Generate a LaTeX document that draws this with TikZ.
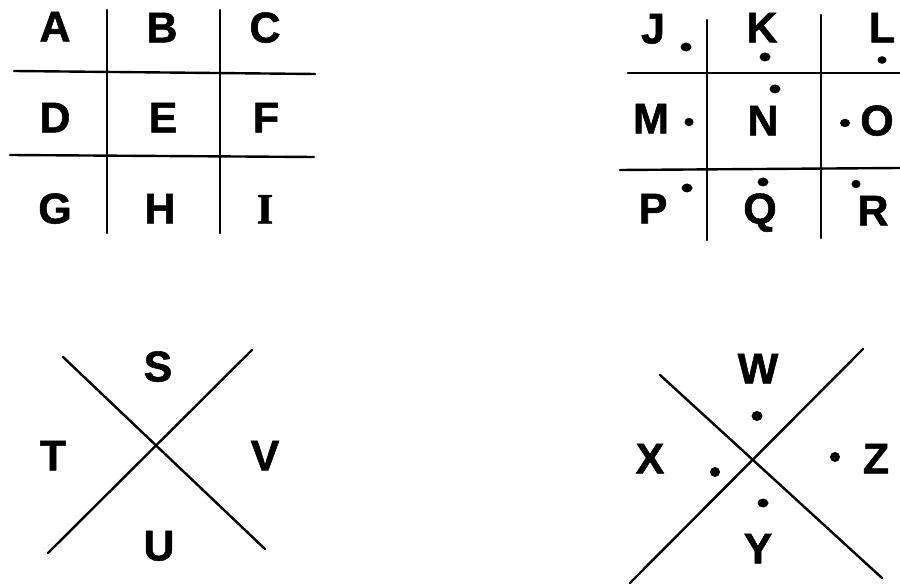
\documentclass[tikz,border=0pt]{standalone}
\usepackage{fontspec}
\setmainfont{Liberation Sans}
\newfontfamily\heavy{Liberation Sans Bold}[FakeBold=1.2]
\newfontfamily\serifI{Liberation Serif Bold}[FakeBold=1.2]
\begin{document}
\begin{tikzpicture}[x=1pt,y=-1pt,
  lt/.style={font=\fontsize{43}{43}\selectfont\heavy, inner sep=0pt, text height=30.8pt, text depth=0pt, anchor=center},
  ln/.style={line width=2.4pt, line cap=round},
  dt/.style={fill=black}]
\useasboundingbox (0,0) rectangle (900,585);
% ---- left grid ----
\coordinate (g1t) at (107,10); \coordinate (g1b) at (107,233);
\coordinate (g2t) at (220,10); \coordinate (g2b) at (220,233);
\coordinate (h1l) at (14,71);  \coordinate (h1r) at (315,74);
\coordinate (h2l) at (10,155); \coordinate (h2r) at (314,157);
\draw[ln] (g1t) -- (g1b);
\draw[ln] (g2t) -- (g2b);
\draw[ln] (h1l) -- (h1r);
\draw[ln] (h2l) -- (h2r);
\node[lt] (A) at (55,26) {A};
\node[lt] (B) at (162,27) {B};
\node[lt] (C) at (265,27) {C};
\node[lt] (D) at (55,117) {D};
\node[lt] (E) at (163,117) {E};
\node[lt] (F) at (266,117) {F};
\node[lt] (G) at (55,208) {G};
\node[lt] (H) at (160,208) {H};
\node[lt,font=\fontsize{43}{43}\selectfont\serifI] (I) at (265,208) {I};
% ---- right grid ----
\coordinate (k1t) at (707,20); \coordinate (k1b) at (707,240);
\coordinate (k2t) at (821,15); \coordinate (k2b) at (821,238);
\coordinate (m1l) at (628,73); \coordinate (m1r) at (900,73);
\coordinate (m2l) at (620,170); \coordinate (m2r) at (900,168);
\draw[ln] (k1t) -- (k1b);
\draw[ln] (k2t) -- (k2b);
\draw[ln] (m1l) -- (m1r);
\draw[ln] (m2l) -- (m2r);
\node[lt] (J) at (653,28) {J};
\node[lt] (K) at (762,27) {K};
\node[lt] (L) at (882,27) {L};
\node[lt] (M) at (651,118) {M};
\node[lt] (N) at (763,120) {N};
\node[lt] (O) at (877,120) {O};
\node[lt] (P) at (653,208) {P};
\node[lt] (Q) at (760,208) {Q};
\node[lt] (R) at (873,210) {R};
\fill[dt] (686,47) ellipse (5.5 and 4.5);
\fill[dt] (765,57) ellipse (5.5 and 4.5);
\fill[dt] (882,60) ellipse (4.5 and 3.8);
\fill[dt] (775,89) ellipse (5.5 and 4.5);
\fill[dt] (689,122) ellipse (4.5 and 4.2);
\fill[dt] (845,123) ellipse (5 and 4.2);
\fill[dt] (687,188) ellipse (5.5 and 4.5);
\fill[dt] (763,182) ellipse (5.5 and 4.5);
\fill[dt] (856,184) ellipse (4.5 and 4.2);
% ---- left X ----
\coordinate (x1a) at (63,357);  \coordinate (x1b) at (265,549);
\coordinate (x2a) at (48,553);  \coordinate (x2b) at (252,350);
\draw[ln] (x1a) -- (x1b);
\draw[ln] (x2a) -- (x2b);
\node[lt] (S) at (158,366) {S};
\node[lt] (T) at (53,455) {T};
\node[lt] (V) at (265,455) {V};
\node[lt] (U) at (159,545) {U};
% ---- right X ----
\coordinate (y1a) at (660,375); \coordinate (y1b) at (882,578);
\coordinate (y2a) at (630,583); \coordinate (y2b) at (863,349);
\draw[ln] (y1a) -- (y1b);
\draw[ln] (y2a) -- (y2b);
\node[lt] (W) at (758,368) {W};
\node[lt] (X) at (650,458) {X};
\node[lt] (Z) at (876,458) {Z};
\node[lt] (Y) at (758,548) {Y};
\fill[dt] (757,416) ellipse (5.5 and 5);
\fill[dt] (715,472) ellipse (5 and 5);
\fill[dt] (835,457) ellipse (5 and 5);
\fill[dt] (763,503) ellipse (5.5 and 4.5);
\end{tikzpicture}
\end{document}
